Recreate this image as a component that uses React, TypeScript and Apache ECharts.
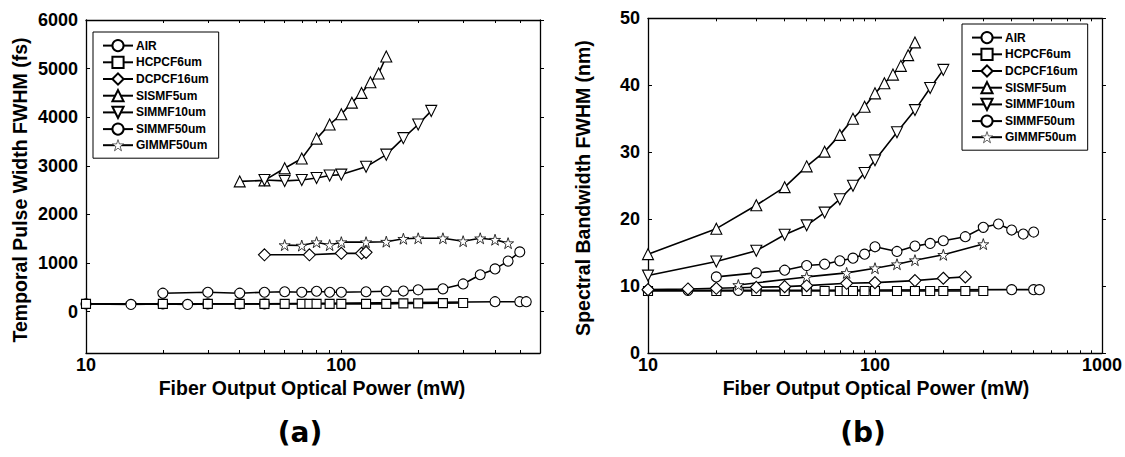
import React, { useEffect, useRef } from "react";
import * as echarts from "echarts";

// ---------- Data: panel (a) temporal pulse width (fs) ----------
const airA_x = [10, 15, 20, 25, 30, 40, 50, 400, 500, 530];
const airA_y = [160, 150, 160, 150, 160, 160, 160, 205, 205, 205];
const hcA_x = [10, 20, 30, 40, 50, 60, 70, 75, 80, 90, 100, 125, 150, 175, 200, 250, 300];
const hcA_y = [160, 160, 160, 160, 160, 160, 160, 160, 160, 160, 160, 160, 160, 170, 170, 175, 180];
const dcA_x = [50, 75, 100, 120, 125];
const dcA_y = [1170, 1170, 1200, 1200, 1220];
const sisA_x = [40, 50, 60, 70, 80, 90, 100, 110, 120, 130, 140, 150];
const sisA_y = [2680, 2700, 2950, 3150, 3560, 3850, 4060, 4300, 4500, 4720, 4900, 5250];
const sm10A_x = [50, 60, 70, 80, 90, 100, 125, 150, 175, 200, 225];
const sm10A_y = [2710, 2690, 2710, 2750, 2800, 2820, 2980, 3230, 3570, 3850, 4130];
const sm50A_x = [20, 30, 40, 50, 60, 70, 80, 90, 100, 125, 150, 175, 200, 250, 300, 350, 400, 450, 500];
const sm50A_y = [380, 400, 380, 400, 410, 400, 420, 400, 400, 410, 420, 425, 450, 470, 570, 760, 880, 1040, 1230];
const gimA_x = [60, 70, 80, 90, 100, 125, 150, 175, 200, 250, 300, 350, 400, 450];
const gimA_y = [1370, 1360, 1430, 1370, 1430, 1430, 1440, 1500, 1510, 1510, 1450, 1510, 1480, 1410];

// ---------- Data: panel (b) spectral bandwidth (nm) ----------
const airB_x = [10, 15, 20, 25, 30, 40, 50, 400, 500, 530];
const airB_y = [9.4, 9.4, 9.4, 9.4, 9.4, 9.4, 9.4, 9.5, 9.5, 9.5];
const hcB_x = [10, 20, 30, 40, 50, 60, 70, 75, 80, 90, 100, 125, 150, 175, 200, 250, 300];
const hcB_y = [9.3, 9.3, 9.3, 9.3, 9.3, 9.3, 9.3, 9.3, 9.3, 9.3, 9.3, 9.3, 9.3, 9.3, 9.3, 9.3, 9.3];
const dcB_x = [10, 15, 20, 30, 40, 50, 75, 100, 150, 200, 250];
const dcB_y = [9.5, 9.6, 9.7, 9.85, 9.95, 10.1, 10.45, 10.55, 10.85, 11.2, 11.4];
const sisB_x = [10, 20, 30, 40, 50, 60, 70, 80, 90, 100, 110, 120, 130, 140, 150];
const sisB_y = [14.8, 18.6, 22.1, 24.8, 27.9, 30.1, 32.6, 35.0, 36.8, 38.8, 40.3, 41.6, 42.9, 44.5, 46.4];
const sm10B_x = [10, 20, 30, 40, 50, 60, 70, 80, 90, 100, 125, 150, 175, 200];
const sm10B_y = [11.6, 13.7, 15.3, 17.7, 19.1, 21.0, 23.0, 25.0, 26.9, 28.8, 33.0, 36.3, 39.6, 42.3];
const sm50B_x = [20, 30, 40, 50, 60, 70, 80, 90, 100, 125, 150, 175, 200, 250, 300, 350, 400, 450, 500];
const sm50B_y = [11.4, 12.0, 12.4, 13.1, 13.3, 13.8, 14.2, 14.8, 15.9, 15.2, 16.0, 16.4, 16.8, 17.4, 18.8, 19.3, 18.4, 17.8, 18.1];
const gimB_x = [25, 50, 75, 100, 125, 150, 200, 300];
const gimB_y = [10.2, 11.4, 12.0, 12.7, 13.3, 13.9, 14.7, 16.3];

const seriesNames = ["AIR", "HCPCF6um", "DCPCF16um", "SISMF5um", "SIMMF10um", "SIMMF50um", "GIMMF50um"];
const yTicksA = [0, 1000, 2000, 3000, 4000, 5000, 6000];
const yTicksB = [0, 10, 20, 30, 40, 50];
const xLabelTicks = [10, 100, 1000];
const xMinorTicks = [10, 20, 30, 40, 50, 60, 70, 80, 90, 100, 200, 300, 400, 500, 600, 700, 800, 900, 1000];

const STAR = "path://M50,0L61.8,35.1L98.6,35.1L68.8,56.7L80.2,91.5L50,70L19.8,91.5L31.2,56.7L1.4,35.1L38.2,35.1Z";
const FONT = "Liberation Sans";

export default function App() {
  const ref = useRef<HTMLDivElement>(null);
  useEffect(() => {
    const chart = echarts.init(ref.current!, null, { renderer: "svg" });

    const mk = (name: string, xs: number[], ys: number[], idx: number, symbol: string, size: number, rotate = 0, bw = 1.1) => ({
      type: "line",
      name,
      xAxisIndex: idx * 2,
      yAxisIndex: idx * 2,
      data: xs.map((x, i) => [x, ys[i]]),
      symbol,
      symbolSize: size,
      symbolRotate: rotate,
      showAllSymbol: true,
      lineStyle: { color: "#000", width: 1.6 },
      itemStyle: { color: "#fff", borderColor: "#000", borderWidth: bw },
      emphasis: { disabled: true },
      z: 3,
    });

    const panel = (idx: number, d: number[][][]) => [
      mk("AIR", d[0][0], d[0][1], idx, "circle", 10),
      mk("HCPCF6um", d[1][0], d[1][1], idx, "rect", 9),
      mk("DCPCF16um", d[2][0], d[2][1], idx, "diamond", 12),
      mk("SISMF5um", d[3][0], d[3][1], idx, "triangle", 11),
      mk("SIMMF10um", d[4][0], d[4][1], idx, "triangle", 11, 180),
      mk("SIMMF50um", d[5][0], d[5][1], idx, "circle", 10),
      mk("GIMMF50um", d[6][0], d[6][1], idx, STAR, 11, 0, 0.8),
    ];

    const labelStyle = { fontFamily: FONT, fontWeight: "bold", fontSize: 18, color: "#000" };
    const xLabelFmt = (v: number) => {
      const r = Math.round(v);
      return r === 10 || r === 100 || r === 1000 ? String(r) : "";
    };

    const xAxes = (gi: number, max: number) => [
      {
        type: "log", gridIndex: gi, min: 10, max, logBase: 10, position: "bottom",
        axisLine: { onZero: false, lineStyle: { color: "#000", width: 1.3 } },
        axisTick: { inside: true, length: 3, customValues: xMinorTicks.filter((v) => v <= max), lineStyle: { color: "#000" } },
        axisLabel: { ...labelStyle, formatter: xLabelFmt, margin: 3, customValues: xLabelTicks.filter((v) => v <= max) },
        splitLine: { show: false },
      },
      {
        type: "log", gridIndex: gi, min: 10, max, logBase: 10, position: "top",
        axisLine: { onZero: false, lineStyle: { color: "#000", width: 1.3 } },
        axisTick: { inside: true, length: 3, customValues: xMinorTicks.filter((v) => v <= max), lineStyle: { color: "#000" } },
        axisLabel: { show: false },
        splitLine: { show: false },
      },
    ];
    const yAxes = (gi: number, min: number, max: number, ticks: number[]) => [
      {
        type: "value", gridIndex: gi, min, max, position: "left",
        axisLine: { show: true, onZero: false, lineStyle: { color: "#000", width: 1.3 } },
        axisTick: { show: true, inside: true, length: 4, customValues: ticks, lineStyle: { color: "#000" } },
        axisLabel: { ...labelStyle, margin: 8, customValues: ticks, formatter: (v: number) => String(v) },
        splitLine: { show: false },
      },
      {
        type: "value", gridIndex: gi, min, max, position: "right",
        axisLine: { show: true, onZero: false, lineStyle: { color: "#000", width: 1.3 } },
        axisTick: { show: true, inside: false, length: 4, customValues: ticks, lineStyle: { color: "#000" } },
        axisLabel: { show: false },
        splitLine: { show: false },
      },
    ];

    const legendData = seriesNames.map((n) =>
      n === "GIMMF50um" ? { name: n, itemStyle: { borderWidth: 0.6 } } : { name: n }
    );
    const legendBase = {
      data: legendData,
      orient: "vertical",
      itemWidth: 30,
      itemHeight: 14,
      itemGap: 3.5,
      borderColor: "#000",
      borderWidth: 1,
      backgroundColor: "#fff",
      selectedMode: false,
      textStyle: { fontFamily: FONT, fontWeight: "bold", fontSize: 12, color: "#000", padding: [0, 0, 0, -2] },
    };

    const titleText = (text: string, x: number, y: number, rot: number, size = 19.5, family = FONT) => ({
      type: "text",
      x, y, rotation: rot,
      style: { text, fontFamily: family, fontWeight: "bold", fontSize: size, fill: "#000", align: "center", verticalAlign: "middle" },
    });

    chart.setOption({
      animation: false,
      backgroundColor: "#fff",
      grid: [
        { left: 86, top: 20, width: 454, height: 333 },
        { left: 648, top: 18.3, width: 457, height: 335 },
      ],
      xAxis: [...xAxes(0, 600), ...xAxes(1, 1000)],
      yAxis: [...yAxes(0, -850, 6000, yTicksA), ...yAxes(1, 0, 50, yTicksB)],
      legend: [
        { ...legendBase, left: 93, top: 32, padding: [7, 10, 7, 9] },
        { ...legendBase, left: 962, top: 24, padding: [7, 10, 7, 9] },
      ],
      series: [
        ...panel(0, [
          [airA_x, airA_y], [hcA_x, hcA_y], [dcA_x, dcA_y], [sisA_x, sisA_y],
          [sm10A_x, sm10A_y], [sm50A_x, sm50A_y], [gimA_x, gimA_y],
        ]),
        ...panel(1, [
          [airB_x, airB_y], [hcB_x, hcB_y], [dcB_x, dcB_y], [sisB_x, sisB_y],
          [sm10B_x, sm10B_y], [sm50B_x, sm50B_y], [gimB_x, gimB_y],
        ]),
      ],
      graphic: [
        titleText("Temporal Pulse Width FWHM (fs)", 20, 190, Math.PI / 2),
        titleText("Spectral Bandwidth FWHM (nm)", 583, 188, Math.PI / 2),
        titleText("Fiber Output Optical Power (mW)", 312, 388, 0),
        titleText("Fiber Output Optical Power (mW)", 876, 388, 0),
        titleText("(a)", 300, 432, 0, 28, "DejaVu Sans"),
        titleText("(b)", 863, 432, 0, 28, "DejaVu Sans"),
      ],
    });
    return () => chart.dispose();
  }, []);
  return <div ref={ref} style={{ position: "fixed", left: 0, top: 0, width: 1125, height: 457 }} />;
}
